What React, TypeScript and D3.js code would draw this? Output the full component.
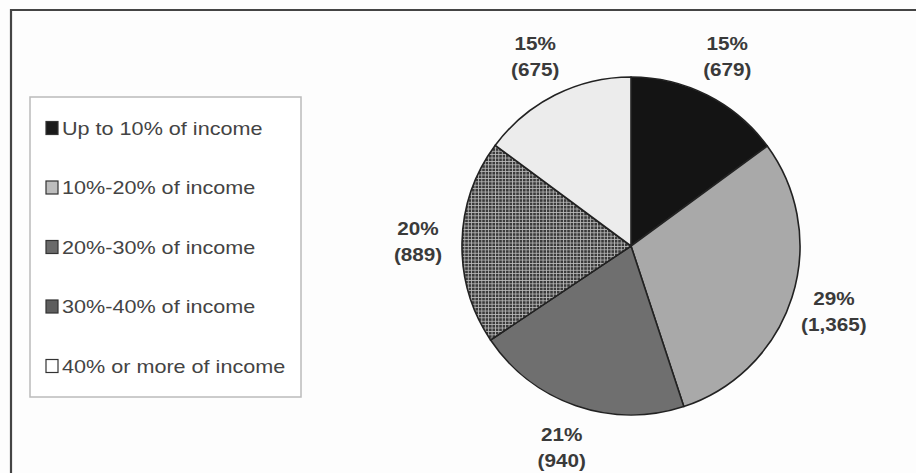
import React from "react";
import * as d3 from "d3";

const categories = [
  "Up to 10% of income",
  "10%-20% of income",
  "20%-30% of income",
  "30%-40% of income",
  "40% or more of income",
];
const counts = [679, 1365, 940, 889, 675];
const percentLabels = ["15%", "29%", "21%", "20%", "15%"];
const countLabels = ["(679)", "(1,365)", "(940)", "(889)", "(675)"];

const W = 916;
const H = 473;
const cx = 631;
const cy = 246;
const R = 169;
const labelR = 213;
const fills = ["#141414", "#a9a9a9", "#6f6f6f", "url(#hatch)", "#ececec"];
const legendFills = ["#1a1a1a", "#bdbdbd", "#6a6a6a", "#5e5e5e", "#ffffff"];

export default function App() {
  const pie = d3.pie<number>().sort(null).value((d) => d)(counts);
  const arc = d3.arc<d3.PieArcDatum<number>>().innerRadius(0).outerRadius(R);
  const labelArc = d3
    .arc<d3.PieArcDatum<number>>()
    .innerRadius(labelR)
    .outerRadius(labelR);
  const legendY = d3
    .scalePoint<string>()
    .domain(categories)
    .range([128, 366]);

  return (
    <svg
      width={W}
      height={H}
      style={{ position: "absolute", left: 0, top: 0, background: "#fdfdfd" }}
      fontFamily="'Liberation Sans', Arial, sans-serif"
    >
      <defs>
        <pattern id="hatch" width={3.4} height={3.4} patternUnits="userSpaceOnUse">
          <rect width={3.4} height={3.4} fill="#3a3a3a" />
          <rect x={0} y={0} width={3.4} height={0.8} fill="#bdbdbd" />
          <rect x={0} y={0} width={0.8} height={3.4} fill="#bdbdbd" />
        </pattern>
      </defs>
      {/* outer frame */}
      <path d={`M11,${H} L11,10 L${W},10`} fill="none" stroke="#444" strokeWidth={2.2} />

      {/* legend */}
      <rect x={30} y={97} width={271} height={300} fill="#fff" stroke="#bbb" strokeWidth={1.5} />
      {categories.map((c, i) => {
        const y = legendY(c)!;
        return (
          <g key={c}>
            <rect
              x={46}
              y={y - 6.5}
              width={12}
              height={13}
              fill={legendFills[i]}
              stroke="#333"
              strokeWidth={1.2}
            />
            <text
              x={0}
              y={0}
              transform={`translate(62,${y + 6.5}) scale(1.2,1)`}
              fontSize={18}
              fill="#444"
            >
              {c}
            </text>
          </g>
        );
      })}

      {/* pie */}
      <g transform={`translate(${cx},${cy})`}>
        {pie.map((d, i) => (
          <path
            key={i}
            d={arc(d)!}
            fill={fills[i]}
            stroke="#222"
            strokeWidth={1.6}
            strokeLinejoin="round"
          />
        ))}
        {pie.map((d, i) => {
          const [lx, ly] = labelArc.centroid(d);
          return (
            <g key={"l" + i} transform={`translate(${lx},${ly}) scale(1.15,1)`}>
              <text
                textAnchor="middle"
                y={-6}
                fontSize={18}
                fontWeight="bold"
                fill="#3a3a3a"
              >
                {percentLabels[i]}
              </text>
              <text
                textAnchor="middle"
                y={20}
                fontSize={18}
                fontWeight="bold"
                fill="#3a3a3a"
              >
                {countLabels[i]}
              </text>
            </g>
          );
        })}
      </g>
    </svg>
  );
}
